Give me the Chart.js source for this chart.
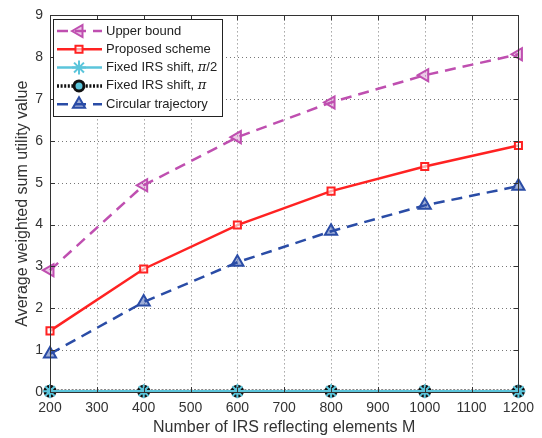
<!DOCTYPE html>
<html>
<head>
<meta charset="utf-8">
<script src="https://cdn.jsdelivr.net/npm/chart.js@4/dist/chart.umd.min.js"></script>
<style>
html,body{margin:0;padding:0;background:#fff;}
#wrap{width:542px;height:438px;}
</style>
</head>
<body>
<div id="wrap"><canvas id="c" width="542" height="438"></canvas></div>
<script>
const elements = [200, 400, 600, 800, 1000, 1200];
const upperBound = [2.91, 4.94, 6.09, 6.92, 7.57, 8.07];
const proposed = [1.46, 2.94, 3.99, 4.80, 5.39, 5.89];
const fixedHalfPi = [0.02, 0.02, 0.02, 0.02, 0.02, 0.02];
const fixedPi = [0.02, 0.02, 0.02, 0.02, 0.02, 0.02];
const circular = [0.91, 2.15, 3.10, 3.84, 4.46, 4.92];
const xTicks = [200, 300, 400, 500, 600, 700, 800, 900, 1000, 1100, 1200];
const yTicks = [0, 1, 2, 3, 4, 5, 6, 7, 8, 9];

const FONT = '"Liberation Sans", Arial, sans-serif';
const C_UP = '#BF4FB0', C_PR = '#FF2222', C_CY = '#5BC5DB', C_BK = '#111111', C_BL = '#2A4CA6';

function pts(arr){ return arr.map((v,i)=>({x:elements[i], y:v})); }

const datasets = [
  {label:'Upper bound', data:pts(upperBound), borderColor:C_UP, backgroundColor:'rgba(191,79,176,0.3)',
   borderWidth:2.5, borderDash:[11,7], pointStyle:'triangle', rotation:-90, pointRadius:7, pointBorderWidth:2, pointBorderColor:C_UP},
  {label:'Proposed scheme', data:pts(proposed), borderColor:C_PR, backgroundColor:'rgba(255,255,255,0.6)',
   borderWidth:2.5, pointStyle:'rect', pointRadius:5, pointBorderWidth:2, pointBorderColor:C_PR},
  {label:'Fixed IRS shift, \u03c0/2', data:pts(fixedHalfPi), borderColor:C_CY, backgroundColor:C_CY,
   borderWidth:2.5, pointStyle:'star', pointRadius:7, pointBorderWidth:2, pointBorderColor:C_CY},
  {label:'Fixed IRS shift, \u03c0', data:pts(fixedPi), borderColor:C_BK, backgroundColor:C_CY,
   borderWidth:3.5, borderDash:[2,1.6], pointStyle:'circle', pointRadius:5, pointBorderWidth:3, pointBorderColor:C_BK},
  {label:'Circular trajectory', data:pts(circular), borderColor:C_BL, backgroundColor:'rgba(42,76,166,0.45)',
   borderWidth:2.5, borderDash:[11,7], pointStyle:'triangle', rotation:0, pointRadius:7, pointBorderWidth:2, pointBorderColor:C_BL}
];
datasets.forEach(d=>{ d.fill=false; d.tension=0; d.pointBackgroundColor=d.backgroundColor; });

const framePlugin = {
  id:'frame',
  beforeDatasetsDraw(chart){
    const {ctx, chartArea:a, scales:{x,y}} = chart;
    ctx.save();
    ctx.strokeStyle = '#777';
    ctx.lineWidth = 1;
    ctx.setLineDash([1,3]);
    ctx.beginPath();
    xTicks.forEach(t=>{ const px=Math.round(x.getPixelForValue(t))+0.5;
      ctx.moveTo(px,a.top); ctx.lineTo(px,a.bottom); });
    yTicks.forEach(t=>{ const py=Math.round(y.getPixelForValue(t))+0.5;
      ctx.moveTo(a.left,py); ctx.lineTo(a.right,py); });
    ctx.stroke();
    ctx.restore();
  },
  afterDatasetsDraw(chart){
    const {ctx, chartArea:a, scales:{x,y}} = chart;
    ctx.save();
    ctx.strokeStyle = '#333';
    ctx.lineWidth = 1;
    ctx.setLineDash([]);
    ctx.strokeRect(Math.round(a.left)+0.5, Math.round(a.top)+0.5, Math.round(a.right-a.left), Math.round(a.bottom-a.top));
    ctx.beginPath();
    xTicks.forEach(t=>{ const px=Math.round(x.getPixelForValue(t))+0.5;
      ctx.moveTo(px,a.bottom); ctx.lineTo(px,a.bottom-5);
      ctx.moveTo(px,a.top); ctx.lineTo(px,a.top+5); });
    yTicks.forEach(t=>{ const py=Math.round(y.getPixelForValue(t))+0.5;
      ctx.moveTo(a.left,py); ctx.lineTo(a.left+5,py);
      ctx.moveTo(a.right,py); ctx.lineTo(a.right-5,py); });
    ctx.stroke();
    ctx.restore();
  },
  afterDraw(chart){
    const ctx = chart.ctx;
    const bx=53, by=19, bw=169, bh=97;
    ctx.save();
    ctx.fillStyle='#fff';
    ctx.fillRect(bx,by,bw,bh);
    ctx.strokeStyle='#222'; ctx.lineWidth=1; ctx.setLineDash([]);
    ctx.strokeRect(bx+0.5,by+0.5,bw,bh);
    const rowH = 18.3;
    chart.data.datasets.forEach((d,i)=>{
      const cy = by+12+i*rowH;
      ctx.save();
      ctx.strokeStyle=d.borderColor; ctx.lineWidth=d.borderWidth;
      ctx.setLineDash(d.borderDash||[]);
      ctx.beginPath(); ctx.moveTo(57,cy); ctx.lineTo(102,cy); ctx.stroke();
      ctx.setLineDash([]);
      ctx.fillStyle=d.pointBackgroundColor; ctx.strokeStyle=d.pointBorderColor; ctx.lineWidth=d.pointBorderWidth;
      Chart.helpers.drawPoint(ctx,{pointStyle:d.pointStyle, rotation:d.rotation||0, radius:d.pointRadius, borderWidth:d.pointBorderWidth},79,cy);
      ctx.restore();
      ctx.fillStyle='#222'; ctx.textBaseline='middle'; ctx.textAlign='left';
      ctx.font='13px '+FONT;
      const lab=d.label;
      const pi = lab.indexOf('\u03c0');
      if(pi<0){ ctx.fillText(lab,106,cy); }
      else {
        const pre=lab.slice(0,pi), post=lab.slice(pi+1);
        ctx.fillText(pre,106,cy);
        let xx=106+ctx.measureText(pre).width;
        ctx.font='italic 13px "DejaVu Serif", serif';
        ctx.fillText('\u03c0',xx,cy);
        xx+=ctx.measureText('\u03c0').width;
        ctx.font='13px '+FONT;
        ctx.fillText(post,xx,cy);
      }
    });
    ctx.restore();
  }
};

new Chart(document.getElementById('c'), {
  type:'line',
  data:{datasets},
  options:{
    responsive:false, animation:false, clip:false,
    layout:{padding:{left:0, top:15, right:16, bottom:0}},
    plugins:{legend:{display:false}, tooltip:{enabled:false}},
    scales:{
      x:{type:'linear', min:200, max:1200,
        afterBuildTicks(s){ s.ticks = xTicks.map(v=>({value:v})); },
        afterFit(s){ s.height = 46; },
        grid:{display:false, drawTicks:false},
        border:{display:false},
        ticks:{color:'#333', font:{family:FONT, size:14}, padding:8, maxRotation:0, autoSkip:false,
          callback:(v)=>String(v)},
        title:{display:true, text:'Number of IRS reflecting elements M', color:'#333', font:{family:FONT, size:16}, padding:{top:0,bottom:1}}
      },
      y:{type:'linear', min:0, max:9,
        afterBuildTicks(s){ s.ticks = yTicks.map(v=>({value:v})); },
        afterFit(s){ s.width = 50; },
        grid:{display:false, drawTicks:false},
        border:{display:false},
        ticks:{color:'#333', font:{family:FONT, size:14}, padding:7, callback:(v)=>String(v)},
        title:{display:true, text:'Average weighted sum utility value', color:'#333', font:{family:FONT, size:16}, padding:{top:13,bottom:2}}
      }
    }
  },
  plugins:[framePlugin]
});
</script>
</body>
</html>
